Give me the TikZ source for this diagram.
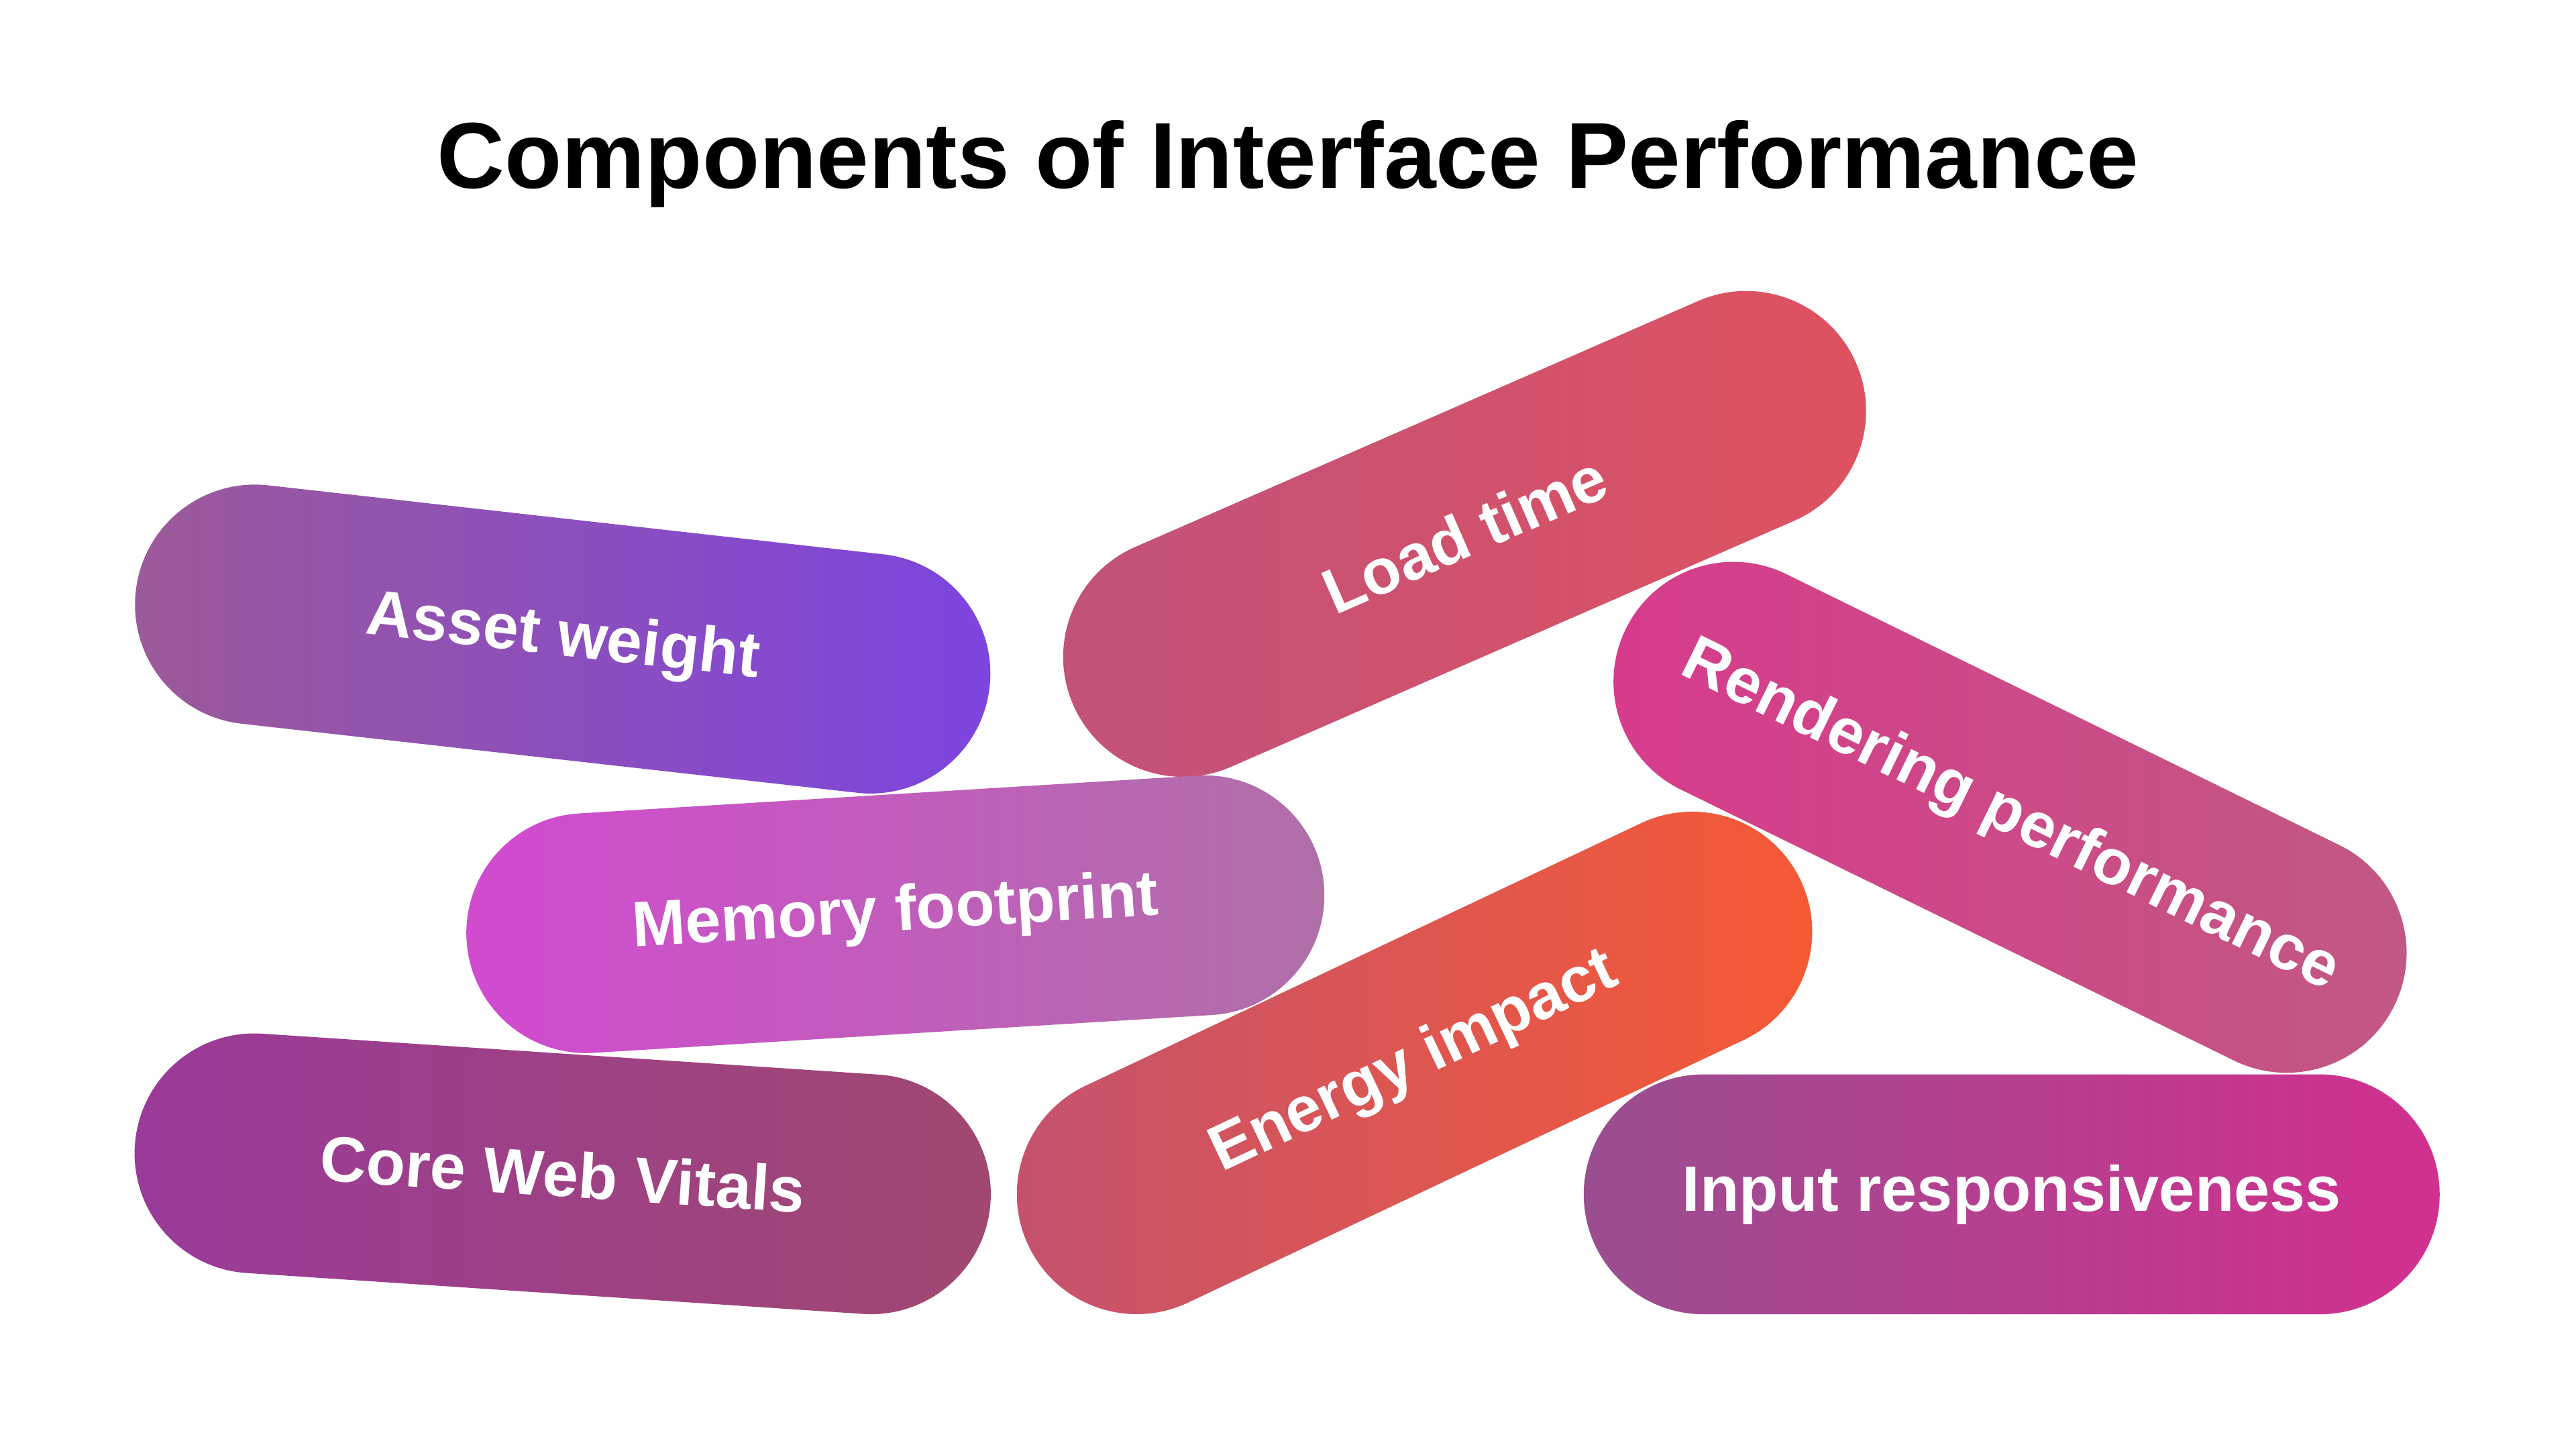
\documentclass[tikz,border=0pt]{standalone}
\usepackage{fontspec}
\setmainfont{Liberation Sans}
\begin{document}
\begin{tikzpicture}[x=1pt,y=1pt,
  lbl/.style={text=white,font=\bfseries\fontsize{39}{44}\selectfont,inner sep=0pt},
  ttl/.style={text=black,font=\bfseries\fontsize{57}{62}\selectfont,inner sep=0pt}]
\newcommand{\mypill}[8]{%
  \begin{scope}[shift={(#1,#2)},rotate=#3]
    \shade[left color=#5,right color=#6,rounded corners=73pt] (-#4/2-73,-73) rectangle (#4/2+73,73);
    \node[lbl,rotate=#3] (#7) at (0,0) {#8};
  \end{scope}}
\fill[white] (0,0) rectangle (1568,882);
\useasboundingbox (0,0) rectangle (1568,882);
\node[ttl] (title) at (784,782) {Components of Interface Performance};
\definecolor{a1}{HTML}{9C5A98}\definecolor{a2}{HTML}{7C44E0}
\definecolor{l1}{HTML}{C0527C}\definecolor{l2}{HTML}{E0525E}
\definecolor{r1}{HTML}{D83A8C}\definecolor{r2}{HTML}{C05A82}
\definecolor{m1}{HTML}{D24AD0}\definecolor{m2}{HTML}{B070A8}
\definecolor{c1}{HTML}{9A3A9A}\definecolor{c2}{HTML}{A04870}
\definecolor{e1}{HTML}{C25270}\definecolor{e2}{HTML}{F85A32}
\definecolor{i1}{HTML}{9A4E90}\definecolor{i2}{HTML}{D2308E}
\mypill{342.5}{493}{-6.4}{377}{a1}{a2}{asset}{Asset weight}
\mypill{891.5}{557}{23.6}{374}{l1}{l2}{load}{Load time}
\mypill{342.5}{167.5}{-3.8}{376}{c1}{c2}{core}{Core Web Vitals}
\mypill{545}{325.5}{3.5}{377}{m1}{m2}{memory}{Memory footprint}
\mypill{1224.5}{155}{0}{375}{i1}{i2}{input}{Input responsiveness}
\mypill{1223.5}{384.5}{-26.1}{375}{r1}{r2}{render}{Rendering performance}
\mypill{861}{235}{25.3}{374}{e1}{e2}{energy}{Energy impact}
\end{tikzpicture}
\end{document}
